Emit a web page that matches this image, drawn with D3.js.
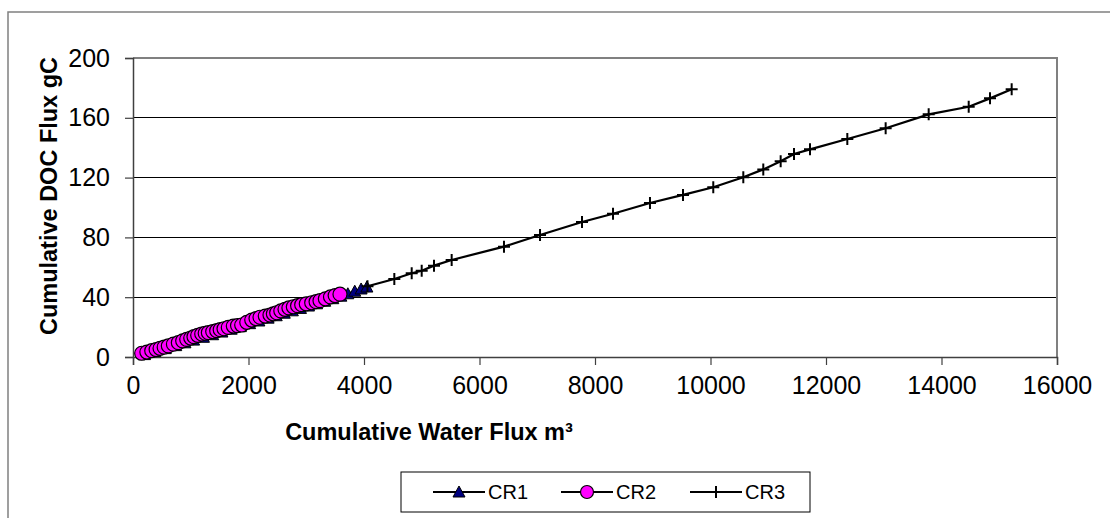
<!DOCTYPE html>
<html><head><meta charset="utf-8">
<script src="https://cdn.jsdelivr.net/npm/d3@7/dist/d3.min.js"></script>
<style>
html,body{margin:0;padding:0;background:#fff;}
svg{display:block;font-family:"Liberation Sans",Arial,sans-serif;}
</style></head>
<body>
<svg id="chart" width="1110" height="518"></svg>
<script>
const seriesNames = ["CR1", "CR2", "CR3"];
const xTicks = [0, 2000, 4000, 6000, 8000, 10000, 12000, 14000, 16000];
const yTicks = [0, 40, 80, 120, 160, 200];

const cr1X = [200, 380, 560, 740, 900, 1050, 1220, 1380, 1540, 1700, 1860, 2020, 2180, 2340, 2480, 2620, 2760, 2900, 3040, 3180, 3320, 3460, 3600, 3720, 3840, 3950, 4050];
const cr1Y = [1.6, 3.6, 5.6, 7.6, 9.5, 11.3, 13.2, 14.9, 16.7, 18.6, 20.3, 22.3, 24.1, 26.0, 27.6, 29.3, 30.9, 32.5, 34.1, 35.6, 37.3, 39.0, 40.7, 42.3, 44.0, 45.5, 46.8];

const cr2X = [150, 240, 324, 400, 468, 540, 612, 700, 785, 860, 930, 1000, 1056, 1120, 1190, 1250, 1305, 1380, 1449, 1510, 1576, 1650, 1737, 1810, 1882, 1970, 2056, 2130, 2199, 2290, 2372, 2430, 2488, 2560, 2632, 2700, 2776, 2850, 2921, 3000, 3094, 3170, 3238, 3330, 3420, 3500, 3584];
const cr2Y = [2.5, 3.3, 4.2, 5.0, 5.8, 6.6, 7.4, 8.6, 9.6, 10.8, 11.8, 12.7, 13.6, 14.5, 15.4, 15.9, 16.3, 17.0, 17.6, 18.3, 18.9, 19.8, 20.7, 21.0, 21.4, 23.2, 24.7, 25.7, 26.6, 27.4, 28.1, 28.9, 29.6, 30.8, 31.9, 32.8, 33.6, 34.3, 35.0, 35.6, 36.3, 37.0, 37.7, 38.9, 40.2, 41.1, 42.0];

const cr3X = [4060, 4525, 4826, 4999, 5212, 5518, 6424, 7048, 7775, 8312, 8952, 9524, 10048, 10568, 10914, 11215, 11446, 11723, 12369, 13033, 13778, 14471, 14840, 15215];
const cr3Y = [47.3, 52.2, 56.0, 57.7, 61.1, 64.9, 73.8, 81.6, 90.3, 95.8, 103.0, 108.4, 113.5, 120.2, 125.5, 130.9, 135.8, 138.9, 145.8, 153.0, 162.3, 167.4, 173.0, 179.1];

const xTitle = "Cumulative Water Flux m³";
const yTitle = "Cumulative DOC Flux gC";

const svg = d3.select("#chart");
const L = 133, R = 1057, T = 58, B = 357;
const x = d3.scaleLinear().domain([0, 16000]).range([L, R]);
const y = d3.scaleLinear().domain([0, 200]).range([B, T]);

// outer frame
svg.append("rect").attr("x", 8).attr("y", 12).attr("width", 1200).attr("height", 600)
  .attr("fill", "#fff").attr("stroke", "#808080").attr("stroke-width", 1.5);

// gridlines
svg.append("g").selectAll("line").data(yTicks.filter(d => d > 0 && d < 200)).join("line")
  .attr("x1", L).attr("x2", R).attr("y1", d => y(d)).attr("y2", d => y(d))
  .attr("stroke", "#000").attr("stroke-width", 1).attr("shape-rendering", "crispEdges");

// plot border top/right
svg.append("path").attr("d", `M${L},${T}H${R}V${B}`).attr("fill", "none")
  .attr("stroke", "#808080").attr("stroke-width", 2);

// axes
const xAxis = svg.append("g").attr("transform", `translate(0,${B})`)
  .call(d3.axisBottom(x).tickValues(xTicks).tickSize(8).tickPadding(5).tickFormat(d3.format("d")));
const yAxis = svg.append("g").attr("transform", `translate(${L},0)`)
  .call(d3.axisLeft(y).tickValues(yTicks).tickSize(8).tickPadding(15).tickFormat(d3.format("d")));
[xAxis, yAxis].forEach(g => {
  g.select(".domain").attr("stroke", "#404040").attr("stroke-width", 1.5);
  g.selectAll(".tick line").attr("stroke", "#404040").attr("stroke-width", 1.2);
  g.selectAll("text").attr("font-size", 25).attr("fill", "#000")
    .attr("font-family", "'Liberation Sans',Arial,sans-serif");
});
xAxis.selectAll("text").attr("dy", "0.95em");

// titles
svg.append("text").attr("x", 429).attr("y", 440).attr("text-anchor", "middle")
  .attr("font-weight", "bold").attr("font-size", 23.5).text(xTitle);
svg.append("text").attr("transform", `translate(57,196) rotate(-90)`).attr("text-anchor", "middle")
  .attr("font-weight", "bold").attr("font-size", 23.5).text(yTitle);

// series
const line = d3.line().x(d => x(d[0])).y(d => y(d[1]));
const s1 = cr1X.map((v, i) => [v, cr1Y[i]]);
const s2 = cr2X.map((v, i) => [v, cr2Y[i]]);
const s3 = cr3X.map((v, i) => [v, cr3Y[i]]);

const triPath = "M0,-6L6,5L-6,5Z";
const plusPath = "M-6,0H6M0,-6V6";

function drawLine(data) {
  svg.append("path").datum(data).attr("d", line).attr("fill", "none")
    .attr("stroke", "#000").attr("stroke-width", 2.2);
}
drawLine(s1);
svg.append("g").selectAll("path").data(s1).join("path")
  .attr("d", triPath).attr("transform", d => `translate(${x(d[0])},${y(d[1])})`)
  .attr("fill", "#000080").attr("stroke", "#000").attr("stroke-width", 1);

drawLine(s2);
svg.append("g").selectAll("circle").data(s2).join("circle")
  .attr("cx", d => x(d[0])).attr("cy", d => y(d[1])).attr("r", 7)
  .attr("fill", "#ff00ff").attr("stroke", "#000").attr("stroke-width", 1.2);

drawLine(s3);
svg.append("g").selectAll("path").data(s3).join("path")
  .attr("d", plusPath).attr("transform", d => `translate(${x(d[0])},${y(d[1])})`)
  .attr("fill", "none").attr("stroke", "#000").attr("stroke-width", 2);

// legend
const lg = svg.append("g");
lg.append("rect").attr("x", 401).attr("y", 472).attr("width", 409).attr("height", 40)
  .attr("fill", "#fff").attr("stroke", "#000").attr("stroke-width", 1);
const legX = [433, 561, 690];
const ly = 492;
seriesNames.forEach((name, i) => {
  const x0 = legX[i];
  lg.append("line").attr("x1", x0).attr("x2", x0 + 52).attr("y1", ly).attr("y2", ly)
    .attr("stroke", "#000").attr("stroke-width", 2);
  const cx = x0 + 26;
  if (i === 0) lg.append("path").attr("d", triPath).attr("transform", `translate(${cx},${ly})`)
    .attr("fill", "#000080").attr("stroke", "#000").attr("stroke-width", 1);
  if (i === 1) lg.append("circle").attr("cx", cx).attr("cy", ly).attr("r", 6.5)
    .attr("fill", "#ff00ff").attr("stroke", "#000").attr("stroke-width", 1.2);
  if (i === 2) lg.append("path").attr("d", plusPath).attr("transform", `translate(${cx},${ly})`)
    .attr("stroke", "#000").attr("stroke-width", 2);
  lg.append("text").attr("x", x0 + 55).attr("y", ly).attr("dy", "0.35em")
    .attr("font-size", 20).text(name);
});
</script>
</body></html>
